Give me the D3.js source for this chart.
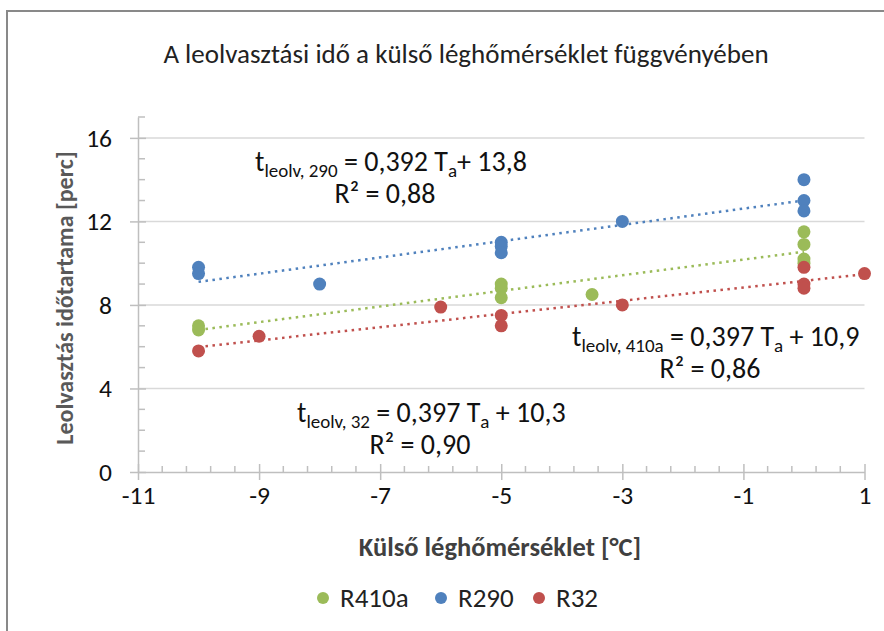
<!DOCTYPE html>
<html><head><meta charset="utf-8">
<script src="https://cdn.jsdelivr.net/npm/d3@7"></script>
<style>
body{margin:0;background:#fff;}
text{font-family:Carlito, Calibri, Lato, "Open Sans", sans-serif;}
</style></head>
<body><svg id="c" width="884" height="631"></svg>
<script>
const seriesNames = ["R410a","R290","R32"];
const seriesColors = ["#9BBB59","#4F81BD","#C0504D"];
const r410aX = [-10,-10,-5,-5,-5,-3.5,0,0,0,0];
const r410aY = [7.0,6.8,9.0,8.8,8.35,8.5,11.5,10.9,10.2,10.0];
const r290X = [-10,-10,-8,-5,-5,-5,-3,0,0,0];
const r290Y = [9.8,9.5,9.0,11.0,10.8,10.5,12.0,14.0,13.0,12.5];
const r32X = [-10,-9,-6,-5,-5,-3,0,0,0,1];
const r32Y = [5.8,6.5,7.9,7.5,7.0,8.0,9.8,9.0,8.8,9.5];
const xTicks = [-11,-9,-7,-5,-3,-1,1];
const yTicks = [0,4,8,12,16];
const equations = [
  {sub:"leolv, 290", rest:" = 0,392 T", rest2:"+ 13,8", r2:"R² = 0,88"},
  {sub:"leolv, 410a", rest:" = 0,397 T", rest2:" + 10,9", r2:"R² = 0,86"},
  {sub:"leolv, 32", rest:" = 0,397 T", rest2:" + 10,3", r2:"R² = 0,90"}
];
const title = "A leolvasztási idő a külső léghőmérséklet függvényében";
const xTitle = "Külső léghőmérséklet [°C]";
const yTitle = "Leolvasztás időtartama [perc]";

const svg = d3.select("#c");
svg.append("rect").attr("x",7).attr("y",11).attr("width",900).attr("height",700)
  .attr("fill","none").attr("stroke","#898989").attr("stroke-width",2);

const x = d3.scaleLinear().domain([-11,1]).range([138,864.5]);
const y = d3.scaleLinear().domain([0,17]).range([472,117]);

svg.append("g").selectAll("line").data(yTicks.filter(d=>d>0)).join("line")
  .attr("x1",x(-11)).attr("x2",x(1)).attr("y1",d=>y(d)).attr("y2",d=>y(d))
  .attr("stroke","#d9d9d9").attr("stroke-width",1.5);

const axisCol = "#bfbfbf";
const yMinor = d3.range(0,18,1).filter(d=>d%4!==0);
svg.append("g").selectAll("line").data(yMinor).join("line")
  .attr("x1",x(-11)).attr("x2",x(-11)+7).attr("y1",d=>y(d)).attr("y2",d=>y(d))
  .attr("stroke",axisCol).attr("stroke-width",1.5);
const xMinor = d3.range(0,31).map(i=>-11+i*0.4).filter((d,i)=>i%5!==0);
svg.append("g").selectAll("line").data(xMinor).join("line")
  .attr("x1",d=>x(d)).attr("x2",d=>x(d)).attr("y1",y(0)).attr("y2",y(0)-6)
  .attr("stroke",axisCol).attr("stroke-width",1.5);

const tickFont = 25.5;
const xAxis = d3.axisBottom(x).tickValues(xTicks).tickSizeInner(0).tickSizeOuter(0).tickPadding(27).tickFormat(d=>d);
const gx = svg.append("g").attr("transform",`translate(0,${y(0)})`).call(xAxis);
gx.select(".domain").attr("stroke",axisCol).attr("stroke-width",1.5);
gx.selectAll(".tick line").attr("y1",-8).attr("y2",8).attr("stroke",axisCol).attr("stroke-width",1.5);
gx.selectAll(".tick text").attr("font-size",tickFont).attr("fill","#111").attr("font-family","Carlito, Calibri, Lato, sans-serif").attr("dy","0.2em");

const yAxis = d3.axisLeft(y).tickValues(yTicks).tickSizeInner(0).tickSizeOuter(0).tickPadding(26);
const gy = svg.append("g").attr("transform",`translate(${x(-11)},0)`).call(yAxis);
gy.select(".domain").attr("stroke",axisCol).attr("stroke-width",1.5);
gy.selectAll(".tick line").attr("x1",-8).attr("x2",8).attr("stroke",axisCol).attr("stroke-width",1.5);
gy.selectAll(".tick text").attr("font-size",tickFont).attr("fill","#111").attr("font-family","Carlito, Calibri, Lato, sans-serif");

const series = [[r410aX,r410aY],[r290X,r290Y],[r32X,r32Y]];
function fit(xs,ys){
  const mx=d3.mean(xs), my=d3.mean(ys);
  let sxy=0,sxx=0; xs.forEach((v,i)=>{sxy+=(v-mx)*(ys[i]-my); sxx+=(v-mx)*(v-mx);});
  const b=sxy/sxx; return {b, a:my-b*mx};
}
series.forEach(([xs,ys],k)=>{
  const f=fit(xs,ys); const x0=d3.min(xs), x1=d3.max(xs);
  svg.append("line").attr("x1",x(x0)).attr("x2",x(x1))
    .attr("y1",y(f.a+f.b*x0)).attr("y2",y(f.a+f.b*x1))
    .attr("stroke",seriesColors[k]).attr("stroke-width",2.5)
    .attr("stroke-dasharray","2.5,4.5");
});
series.forEach(([xs,ys],k)=>{
  svg.append("g").selectAll("circle").data(xs.map((v,i)=>[v,ys[i]])).join("circle")
    .attr("cx",d=>x(d[0])).attr("cy",d=>y(d[1])).attr("r",6.5)
    .attr("fill",seriesColors[k]);
});

svg.append("text").attr("x",466).attr("y",63).attr("text-anchor","middle")
  .attr("font-size",27).attr("fill","#222").text(title);
svg.append("text").attr("x",500).attr("y",556).attr("text-anchor","middle")
  .attr("font-size",26.5).attr("font-weight","bold").attr("fill","#404040").text(xTitle);
svg.append("text").attr("transform","translate(73,298) rotate(-90)").attr("text-anchor","middle")
  .attr("font-size",24).attr("font-weight","bold").attr("fill","#595959").text(yTitle);

const eqPos = [[255,171,385,203],[572,346,710,378],[297,422,420,454]];
equations.forEach((e,i)=>{
  const [ex,ey,rx,ry]=eqPos[i];
  const t=svg.append("text").attr("x",ex).attr("y",ey).attr("font-size",28).attr("fill","#111");
  t.append("tspan").text("t");
  t.append("tspan").attr("font-size",19).attr("dy",6).text(e.sub);
  t.append("tspan").attr("dy",-6).text(e.rest);
  t.append("tspan").attr("font-size",19).attr("dy",6).text("a");
  t.append("tspan").attr("dy",-6).text(e.rest2);
  svg.append("text").attr("x",rx).attr("y",ry).attr("text-anchor","middle")
    .attr("font-size",28).attr("fill","#111").text(e.r2);
});

const legX=[323,441,539];
seriesNames.forEach((n,i)=>{
  svg.append("circle").attr("cx",legX[i]).attr("cy",598).attr("r",6).attr("fill",seriesColors[i]);
  svg.append("text").attr("x",legX[i]+17).attr("y",607).attr("font-size",27).attr("fill","#222").text(n);
});
</script></body></html>
